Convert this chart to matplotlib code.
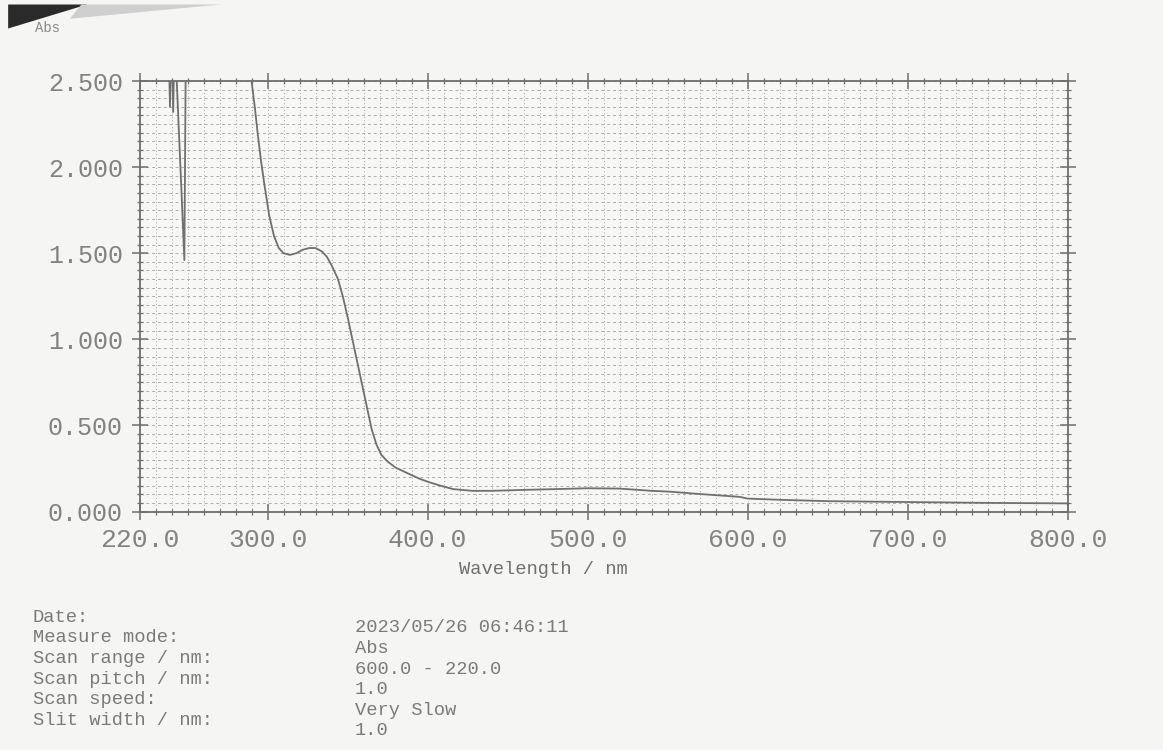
import matplotlib.pyplot as plt
import matplotlib.patches as mpatches
from matplotlib.ticker import MultipleLocator, FixedLocator
import numpy as np

# scan (nm, Abs); values above 2.5 are off-scale
wavelength = [220, 236, 238, 239, 240, 241, 242, 243, 246, 248, 249, 250,
              287, 290, 292, 294, 296, 298, 301, 304, 307, 310, 314, 318,
              322, 326, 330, 334, 337, 340, 344, 347, 350, 353, 356, 359,
              362, 365, 368, 371, 375, 380, 388, 395, 401, 408, 416, 428,
              440, 458, 480, 500, 520, 540, 552, 565, 580, 595, 600, 620,
              650, 700, 750, 800]
absorbance = [2.8, 2.8, 2.8, 2.35, 2.8, 2.32, 2.8, 2.55, 1.9, 1.46, 2.8, 2.8,
              2.75, 2.5, 2.35, 2.18, 2.03, 1.9, 1.72, 1.6, 1.53, 1.50, 1.49, 1.50,
              1.52, 1.53, 1.53, 1.51, 1.48, 1.43, 1.35, 1.25, 1.13, 1.00, 0.87, 0.74,
              0.61, 0.48, 0.39, 0.33, 0.29, 0.255, 0.22, 0.19, 0.17, 0.15, 0.13, 0.12,
              0.12, 0.125, 0.13, 0.135, 0.133, 0.12, 0.115, 0.105, 0.095, 0.085, 0.075, 0.068,
              0.06, 0.055, 0.05, 0.047]

x_ticks = [220, 300, 400, 500, 600, 700, 800]
y_ticks = [0.0, 0.5, 1.0, 1.5, 2.0, 2.5]

info_labels = ["Date:", "Measure mode:", "Scan range / nm:", "Scan pitch / nm:",
               "Scan speed:", "Slit width / nm:"]
info_values = ["2023/05/26 06:46:11", "Abs", "600.0 - 220.0", "1.0",
               "Very Slow", "1.0"]

ink = '#6e6e6e'
mono = 'Liberation Mono'

fig = plt.figure(figsize=(11.63, 7.5), dpi=100)
fig.patch.set_facecolor('#f5f5f4')
ax = fig.add_axes([0.120, 0.318, 0.798, 0.574])
ax.set_facecolor('#f7f7f6')

# dark corner of the photo
fig.patches.append(mpatches.Polygon([[0.007, 0.994], [0.075, 0.994], [0.007, 0.962]],
                                    closed=True, transform=fig.transFigure,
                                    facecolor='#2a2a2a', edgecolor='none'))
fig.patches.append(mpatches.Polygon([[0.07, 0.994], [0.19, 0.994], [0.06, 0.975]],
                                    closed=True, transform=fig.transFigure,
                                    facecolor='#cfcfcf', edgecolor='none'))

ax.plot(wavelength, absorbance, color='#707070', lw=1.3, zorder=3)

ax.set_xlim(220, 800)
ax.set_ylim(0, 2.5)

ax.xaxis.set_major_locator(FixedLocator(x_ticks))
ax.yaxis.set_major_locator(FixedLocator(y_ticks))
ax.xaxis.set_minor_locator(MultipleLocator(10))
ax.yaxis.set_minor_locator(MultipleLocator(0.05))
ax.set_xticklabels([f"{v:.1f}" for v in x_ticks], fontfamily=mono, fontsize=19, color='#828282')
ax.set_yticklabels([f"{v:.3f}" for v in y_ticks], fontfamily=mono, fontsize=18, color='#828282')

# chart paper grid
ax.grid(which='both', axis='x', color='#a2a2a2', lw=0.7, linestyle=(0, (1, 2.5)))
ax.grid(which='both', axis='y', color='#adadad', lw=0.7, linestyle=(0, (3, 3)))

ax.tick_params(which='major', direction='inout', length=12, width=1.1, color=ink,
               top=True, right=True, pad=6)
ax.tick_params(which='minor', direction='inout', length=4, width=0.9, color=ink,
               top=True, right=True)
for s in ax.spines.values():
    s.set_color(ink)
    s.set_linewidth(1.3)

fig.text(0.030, 0.962, "Abs", fontfamily=mono, fontsize=10, color='#888888', va='center')
fig.text(0.467, 0.240, "Wavelength / nm", fontfamily=mono, fontsize=13.5,
         color='#707070', ha='center', va='center')

for i, (lab, val) in enumerate(zip(info_labels, info_values)):
    fig.text(0.028, 0.177 - i * 0.0275, lab, fontfamily=mono, fontsize=13.5,
             color='#7a7a7a', va='center')
    fig.text(0.305, 0.163 - i * 0.0275, val, fontfamily=mono, fontsize=13.5,
             color='#7a7a7a', va='center')

fig.savefig('out.png', dpi=100, facecolor=fig.get_facecolor())
